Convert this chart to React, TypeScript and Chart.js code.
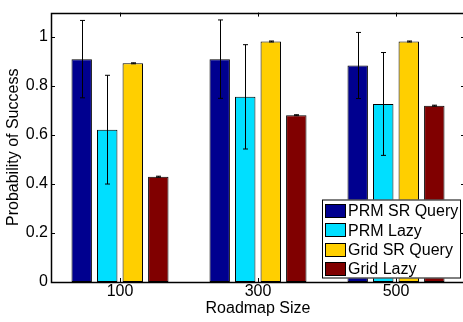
import React, { useEffect, useRef } from 'react';
import { Chart, registerables } from 'chart.js';

Chart.register(...registerables);

// Roadmap sizes on the x axis
const roadmapSizes = ['100', '300', '500'];

// Series names, in legend order
const seriesNames = ['PRM SR Query', 'PRM Lazy', 'Grid SR Query', 'Grid Lazy'];

// Mean probability of success per roadmap size
const prmSrQuery = [0.91, 0.91, 0.884];
const prmLazy = [0.622, 0.756, 0.727];
const gridSrQuery = [0.893, 0.982, 0.982];
const gridLazy = [0.43, 0.681, 0.72];

// Standard deviation (error bar half-length) per roadmap size
const prmSrQueryErr = [0.158, 0.16, 0.135];
const prmLazyErr = [0.222, 0.213, 0.21];
const gridSrQueryErr = [0.002, 0.002, 0.002];
const gridLazyErr = [0.002, 0.002, 0.002];

// Y axis tick values
const yTicks = [0, 0.2, 0.4, 0.6, 0.8, 1];

const seriesColors = ['#00008F', '#00DFFF', '#FFCF00', '#800000'];
const FONT = 'Arial, "Liberation Sans", Helvetica, sans-serif';

const seriesValues = [prmSrQuery, prmLazy, gridSrQuery, gridLazy];
const seriesErrors = [prmSrQueryErr, prmLazyErr, gridSrQueryErr, gridLazyErr];

// The axes box runs a little past the right edge of the canvas
const PLOT_OVERHANG = 2;

const overhangPlugin = {
  id: 'overhang',
  afterLayout(chart: any) {
    const x = chart.scales.x;
    chart.chartArea.right += PLOT_OVERHANG;
    chart.chartArea.width += PLOT_OVERHANG;
    x.right += PLOT_OVERHANG;
    x.width += PLOT_OVERHANG;
    x.configure();
  },
};

// Vertical error bars with short caps, drawn through the y scale
const errorBarPlugin = {
  id: 'errorBars',
  afterDatasetsDraw(chart: any) {
    const { ctx } = chart;
    const yScale = chart.scales.y;
    ctx.save();
    ctx.strokeStyle = '#000';
    ctx.lineWidth = 1;
    chart.data.datasets.forEach((ds: any, i: number) => {
      const meta = chart.getDatasetMeta(i);
      meta.data.forEach((bar: any, j: number) => {
        const v = ds.data[j];
        const e = seriesErrors[i][j];
        const x = Math.round(bar.x) + 0.5;
        const yHi = yScale.getPixelForValue(v + e);
        const yLo = yScale.getPixelForValue(v - e);
        const cap = 2.5;
        ctx.beginPath();
        ctx.moveTo(x, yHi);
        ctx.lineTo(x, yLo);
        ctx.moveTo(x - cap, yHi);
        ctx.lineTo(x + cap, yHi);
        ctx.moveTo(x - cap, yLo);
        ctx.lineTo(x + cap, yLo);
        ctx.stroke();
      });
    });
    ctx.restore();
  },
};

// Axes box with inward tick marks on all four sides, plus the inset legend
const boxAndLegendPlugin = {
  id: 'boxAndLegend',
  afterDraw(chart: any) {
    const { ctx, chartArea } = chart;
    const { left, right, top, bottom } = chartArea;
    const xScale = chart.scales.x;
    const yScale = chart.scales.y;
    const tick = 4;
    ctx.save();
    ctx.strokeStyle = '#000';
    ctx.lineWidth = 1;
    ctx.beginPath();
    yScale.ticks.forEach((t: any) => {
      const y = Math.round(yScale.getPixelForValue(t.value)) + 0.5;
      ctx.moveTo(left, y);
      ctx.lineTo(left + tick, y);
      ctx.moveTo(right, y);
      ctx.lineTo(right - tick, y);
    });
    roadmapSizes.forEach((_, i) => {
      const x = Math.round(xScale.getPixelForValue(i)) + 0.5;
      ctx.moveTo(x, bottom);
      ctx.lineTo(x, bottom - tick);
      ctx.moveTo(x, top);
      ctx.lineTo(x, top + tick);
    });
    ctx.stroke();

    ctx.lineWidth = 1.5;
    ctx.strokeRect(Math.round(left) + 0.5, Math.round(top) + 0.5, right - left, Math.round(bottom) - Math.round(top));

    // Legend box in the lower right corner of the plot
    const lgRight = 461;
    const lgLeft = 322;
    const lgTop = 199.5;
    const lgBottom = 278.5;
    ctx.fillStyle = '#fff';
    ctx.fillRect(lgLeft, lgTop, lgRight - lgLeft, lgBottom - lgTop);
    ctx.lineWidth = 1;
    ctx.strokeRect(lgLeft + 0.5, lgTop + 0.5, lgRight - lgLeft - 1, lgBottom - lgTop - 1);
    const rowH = 19.3;
    ctx.font = `16px ${FONT}`;
    ctx.textBaseline = 'middle';
    ctx.textAlign = 'left';
    seriesNames.forEach((name, i) => {
      const cy = lgTop + 11.5 + i * rowH;
      ctx.fillStyle = seriesColors[i];
      ctx.fillRect(325, Math.round(cy - 7), 21, 14);
      ctx.strokeStyle = '#000';
      ctx.strokeRect(325.5, Math.round(cy - 7) + 0.5, 20, 13);
      ctx.fillStyle = '#000';
      ctx.fillText(name, 348, cy + 1);
    });
    ctx.restore();
  },
};

export default function App() {
  const canvasRef = useRef<HTMLCanvasElement | null>(null);

  useEffect(() => {
    if (!canvasRef.current) return;
    const chart = new Chart(canvasRef.current, {
      type: 'bar',
      data: {
        labels: roadmapSizes,
        datasets: seriesNames.map((name, i) => ({
          label: name,
          data: seriesValues[i],
          backgroundColor: seriesColors[i],
          borderColor: '#000',
          borderWidth: 1,
          borderSkipped: false,
          barPercentage: 0.8,
          categoryPercentage: 0.74,
        })),
      },
      options: {
        responsive: false,
        animation: false,
        devicePixelRatio: 1,
        layout: { padding: { top: 1, right: 0, left: 0, bottom: 0 } },
        plugins: {
          legend: { display: false },
          tooltip: { enabled: false },
        },
        scales: {
          x: {
            type: 'category',
            grid: { display: false, drawTicks: false },
            border: { display: false },
            ticks: { color: '#000', font: { family: FONT, size: 16 }, padding: 0 },
            title: {
              display: true,
              text: 'Roadmap Size',
              color: '#000',
              font: { family: FONT, size: 16 },
              padding: { top: 0, bottom: 4 },
            },
            afterFit(scale: any) {
              scale.height = 40;
            },
          },
          y: {
            min: 0,
            max: 1.1,
            grid: { display: false, drawTicks: false },
            border: { display: false },
            afterBuildTicks(scale: any) {
              scale.ticks = yTicks.map((v) => ({ value: v }));
            },
            ticks: {
              color: '#000',
              font: { family: FONT, size: 16 },
              padding: 3,
              callback: (v: any) => String(Math.round(Number(v) * 10) / 10),
            },
            title: {
              display: true,
              text: 'Probability of Success',
              color: '#000',
              font: { family: FONT, size: 16 },
              padding: { top: 4, bottom: 0 },
            },
            afterFit(scale: any) {
              scale.width = 51;
            },
          },
        },
      },
      plugins: [overhangPlugin, errorBarPlugin, boxAndLegendPlugin],
    } as any);
    return () => chart.destroy();
  }, []);

  return (
    <div style={{ position: 'fixed', left: 0, top: 0, width: 463, height: 322, background: '#fff' }}>
      <canvas ref={canvasRef} width={463} height={322} />
    </div>
  );
}
